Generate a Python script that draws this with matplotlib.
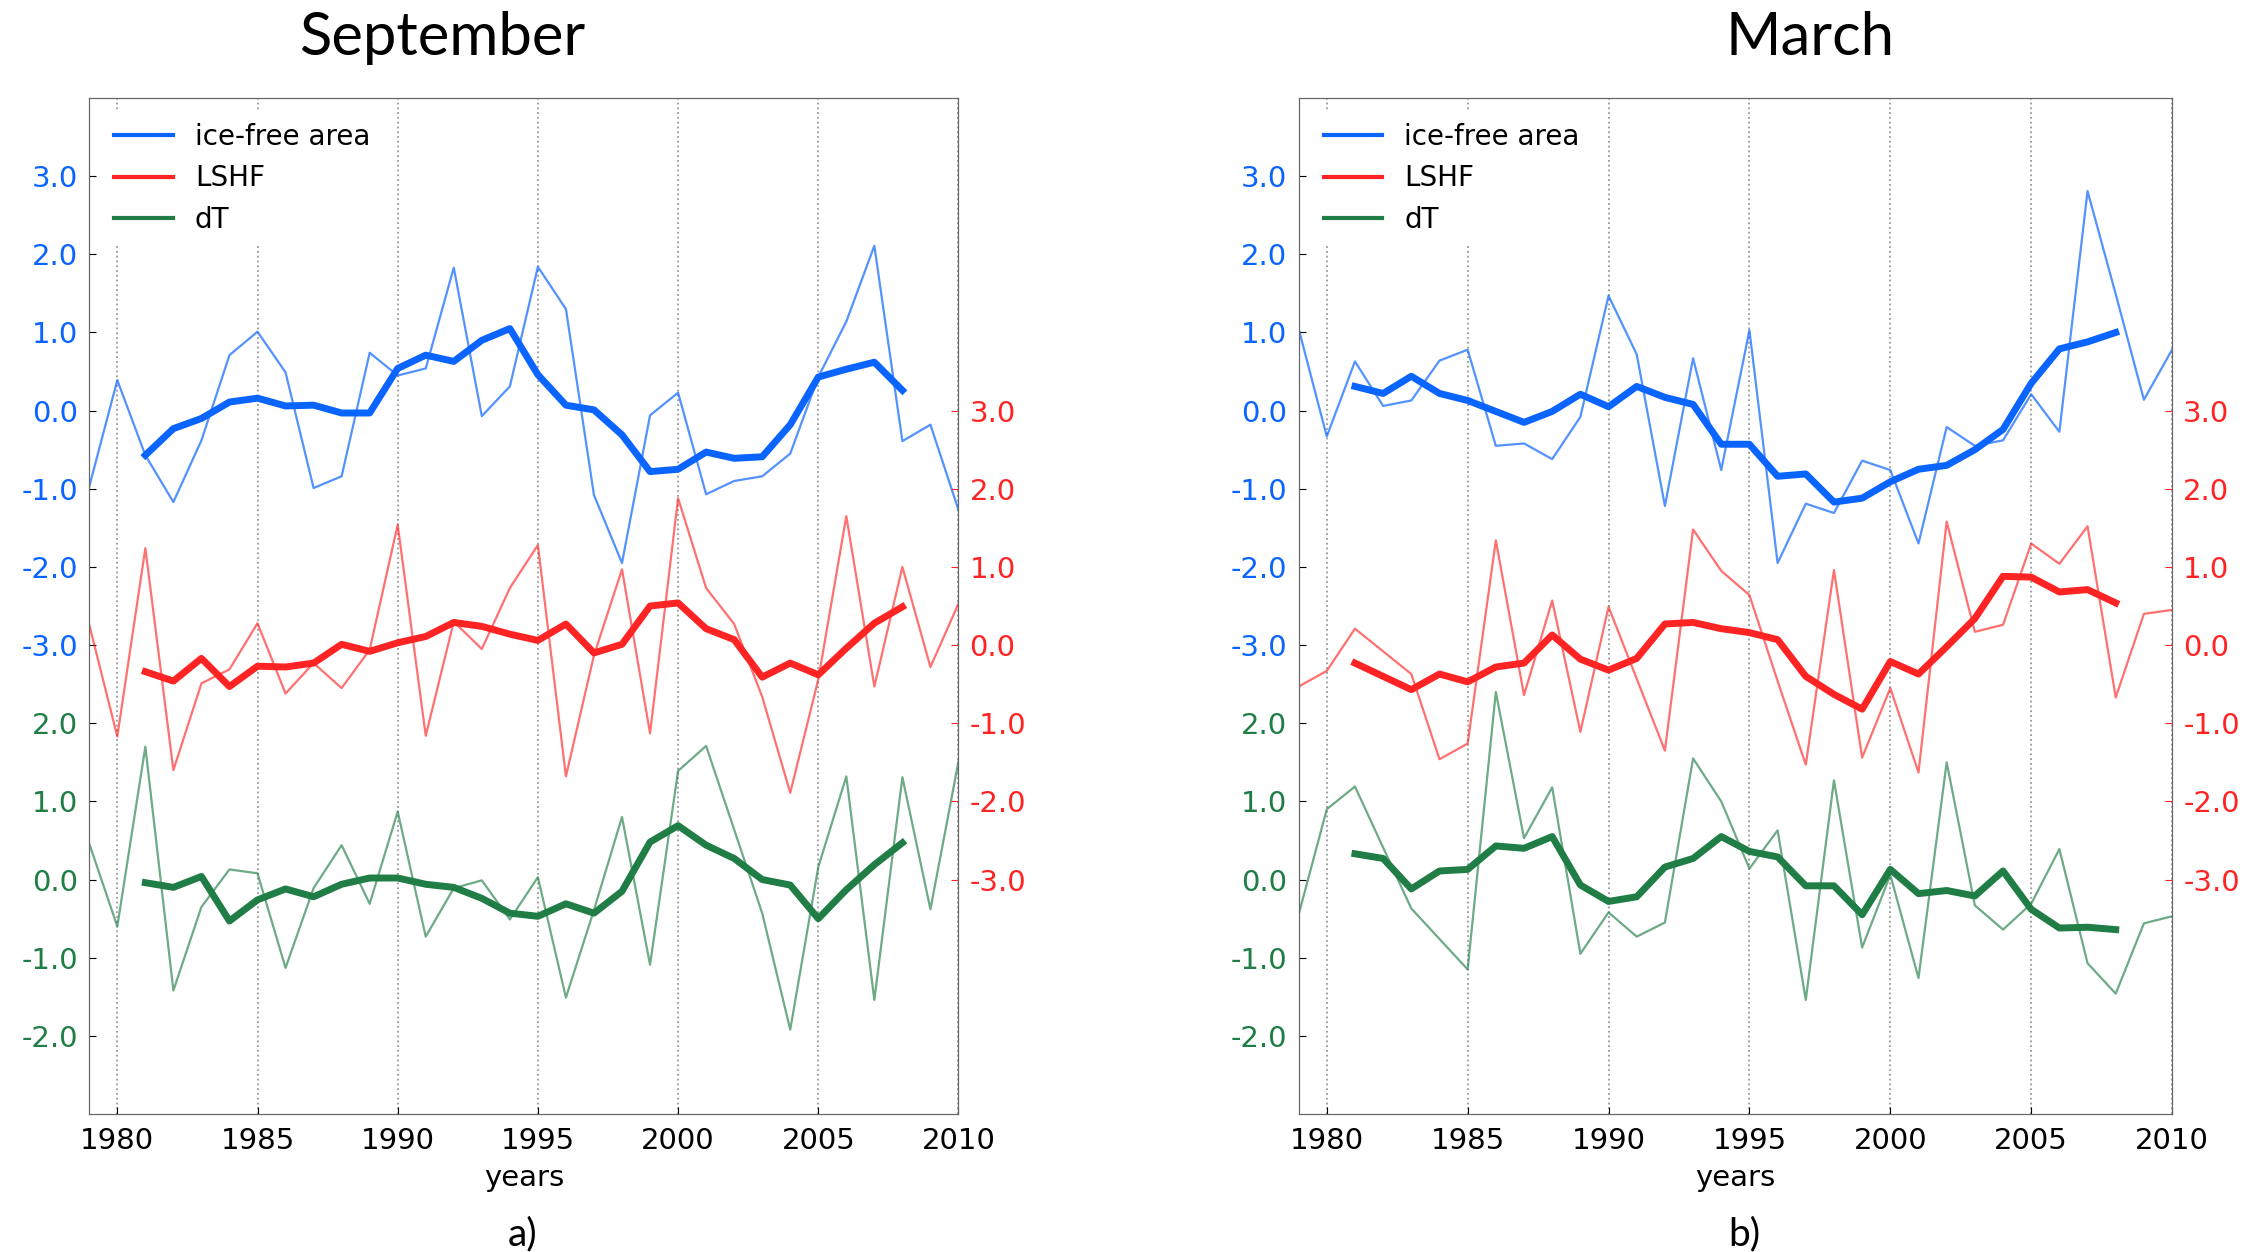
import numpy as np
import matplotlib
matplotlib.use("Agg")
import matplotlib.pyplot as plt
from matplotlib.lines import Line2D

# annual anomalies 1979-2010 and smoothed curves 1981-2008
years = np.arange(1979, 2011)
years_smooth = np.arange(1981, 2009)

sep_ice = [-0.97, 0.39, -0.57, -1.17, -0.38, 0.71, 1.01, 0.49, -0.99, -0.84, 0.74, 0.45, 0.54, 1.83, -0.07, 0.31,
           1.84, 1.30, -1.08, -1.95, -0.06, 0.23, -1.07, -0.90, -0.84, -0.55, 0.43, 1.14, 2.11, -0.39, -0.18, -1.27]
sep_ice_smooth = [-0.57, -0.23, -0.10, 0.11, 0.16, 0.06, 0.07, -0.03, -0.03, 0.54, 0.71, 0.63, 0.90, 1.05,
                  0.46, 0.07, 0.01, -0.31, -0.78, -0.75, -0.53, -0.61, -0.59, -0.18, 0.43, 0.53, 0.62, 0.26]
sep_lshf = [0.26, -1.17, 1.24, -1.60, -0.49, -0.31, 0.28, -0.62, -0.23, -0.55, -0.06, 1.54, -1.16, 0.30, -0.05, 0.73,
            1.28, -1.68, -0.13, 0.97, -1.13, 1.88, 0.73, 0.27, -0.66, -1.89, -0.44, 1.65, -0.53, 1.00, -0.28, 0.53]
sep_lshf_smooth = [-0.34, -0.46, -0.17, -0.53, -0.27, -0.28, -0.23, 0.01, -0.08, 0.03, 0.11, 0.29, 0.24, 0.14,
                   0.06, 0.27, -0.10, 0.01, 0.50, 0.54, 0.21, 0.07, -0.41, -0.23, -0.38, -0.04, 0.28, 0.49]
sep_dt = [0.46, -0.60, 1.70, -1.42, -0.35, 0.13, 0.08, -1.13, -0.11, 0.44, -0.31, 0.87, -0.73, -0.11, -0.01, -0.51,
          0.03, -1.51, -0.39, 0.80, -1.09, 1.39, 1.71, 0.64, -0.43, -1.92, 0.16, 1.32, -1.54, 1.31, -0.38, 1.51]
sep_dt_smooth = [-0.04, -0.10, 0.04, -0.53, -0.26, -0.12, -0.22, -0.06, 0.02, 0.02, -0.06, -0.10, -0.24, -0.43,
                 -0.47, -0.31, -0.43, -0.15, 0.48, 0.69, 0.44, 0.27, 0.00, -0.07, -0.50, -0.13, 0.19, 0.47]

mar_ice = [1.05, -0.33, 0.63, 0.06, 0.13, 0.64, 0.78, -0.45, -0.42, -0.62, -0.08, 1.47, 0.72, -1.22, 0.67, -0.76,
           1.03, -1.95, -1.19, -1.31, -0.64, -0.76, -1.70, -0.21, -0.45, -0.38, 0.21, -0.27, 2.81, 1.49, 0.14, 0.78]
mar_ice_smooth = [0.31, 0.22, 0.44, 0.22, 0.13, -0.01, -0.15, -0.01, 0.21, 0.05, 0.31, 0.17, 0.08, -0.43,
                  -0.43, -0.84, -0.81, -1.17, -1.12, -0.91, -0.75, -0.70, -0.50, -0.24, 0.35, 0.79, 0.88, 1.00]
mar_lshf = [-0.53, -0.33, 0.21, -0.08, -0.37, -1.46, -1.26, 1.34, -0.64, 0.57, -1.11, 0.49, -0.43, -1.35, 1.48, 0.95,
            0.64, -0.46, -1.53, 0.96, -1.44, -0.55, -1.63, 1.58, 0.17, 0.26, 1.30, 1.04, 1.52, -0.67, 0.40, 0.45]
mar_lshf_smooth = [-0.23, -0.40, -0.57, -0.37, -0.47, -0.28, -0.23, 0.13, -0.18, -0.32, -0.17, 0.27, 0.29, 0.21,
                   0.16, 0.07, -0.40, -0.63, -0.82, -0.21, -0.37, -0.02, 0.34, 0.88, 0.87, 0.68, 0.71, 0.54]
mar_dt = [-0.45, 0.90, 1.19, 0.41, -0.37, -0.76, -1.15, 2.40, 0.53, 1.18, -0.95, -0.42, -0.73, -0.55, 1.55, 1.00,
          0.14, 0.63, -1.54, 1.27, -0.87, 0.06, -1.26, 1.50, -0.33, -0.64, -0.31, 0.39, -1.07, -1.46, -0.56, -0.47]
mar_dt_smooth = [0.33, 0.27, -0.12, 0.11, 0.13, 0.43, 0.40, 0.55, -0.07, -0.28, -0.22, 0.16, 0.27, 0.55,
                 0.36, 0.29, -0.08, -0.08, -0.45, 0.13, -0.18, -0.14, -0.21, 0.11, -0.38, -0.62, -0.61, -0.64]

blue_ticks = [3.0, 2.0, 1.0, 0.0, -1.0, -2.0, -3.0]
green_ticks = [2.0, 1.0, 0.0, -1.0, -2.0]
red_ticks = [3.0, 2.0, 1.0, 0.0, -1.0, -2.0, -3.0]
x_ticks = [1980, 1985, 1990, 1995, 2000, 2005, 2010]

BLUE = "#0a64ff"
RED = "#ff2424"
GREEN = "#1f7d45"
ICE_SHIFT = 6.0   # ice-free area drawn above dT on the left axis
RED_SHIFT = 3.0   # right axis zero sits 3 units above left axis zero
FS = 21


def panel(ax, ice, ice_s, lshf, lshf_s, dt, dt_s):
    ax.plot(years, np.asarray(ice) + ICE_SHIFT, color=BLUE, lw=1.6, alpha=0.7)
    ax.plot(years_smooth, np.asarray(ice_s) + ICE_SHIFT, color=BLUE, lw=5)
    ax.plot(years, dt, color=GREEN, lw=1.6, alpha=0.65)
    ax.plot(years_smooth, dt_s, color=GREEN, lw=5)
    ax.set_xlim(1979, 2010)
    ax.set_ylim(-3, 10)
    ax.set_xticks(x_ticks)
    ax.tick_params(axis="x", labelsize=FS, direction="in", length=5, pad=9)
    ax.xaxis.grid(True, linestyle=":", color="#999999", linewidth=1.3)
    ax.set_xlabel("years", fontsize=FS, labelpad=7)

    pos = [v + ICE_SHIFT for v in blue_ticks] + green_ticks
    labels = ["%.1f" % v for v in blue_ticks] + ["%.1f" % v for v in green_ticks]
    ax.set_yticks(pos)
    ax.set_yticklabels(labels)
    ax.tick_params(axis="y", labelsize=FS, direction="in", length=5, pad=8)
    for i, lab in enumerate(ax.get_yticklabels()):
        lab.set_color(BLUE if i < len(blue_ticks) else GREEN)

    tw = ax.twinx()
    tw.plot(years, lshf, color=RED, lw=1.6, alpha=0.65)
    tw.plot(years_smooth, lshf_s, color=RED, lw=5)
    tw.set_ylim(-3 - RED_SHIFT, 10 - RED_SHIFT)
    tw.set_yticks(red_ticks)
    tw.set_yticklabels(["%.1f" % v for v in red_ticks])
    tw.tick_params(axis="y", labelsize=FS, colors=RED, direction="in", length=5, pad=8)
    for sp in ax.spines.values():
        sp.set_color("#666666")
    for sp in tw.spines.values():
        sp.set_color("#666666")

    handles = [Line2D([], [], color=BLUE, lw=3),
               Line2D([], [], color=RED, lw=3),
               Line2D([], [], color=GREEN, lw=3)]
    leg = tw.legend(handles, ["ice-free area", "LSHF", "dT"], loc="upper left",
                    fontsize=20, handlelength=2.1, labelspacing=0.48,
                    frameon=True, borderaxespad=0.5)
    leg.get_frame().set_edgecolor("none")
    leg.get_frame().set_alpha(1.0)


fig = plt.figure(figsize=(22.6, 12.52), dpi=100)
ax1 = fig.add_axes([0.0395, 0.1102, 0.3846, 0.8115])
ax2 = fig.add_axes([0.5746, 0.1102, 0.3865, 0.8115])

panel(ax1, sep_ice, sep_ice_smooth, sep_lshf, sep_lshf_smooth, sep_dt, sep_dt_smooth)
panel(ax2, mar_ice, mar_ice_smooth, mar_lshf, mar_lshf_smooth, mar_dt, mar_dt_smooth)

fig.text(0.1956, 0.970, "September", fontsize=43, family="Lato", ha="center", va="center")
fig.text(0.801, 0.970, "March", fontsize=43, family="Lato", ha="center", va="center")
fig.text(0.2314, 0.014, "a)", fontsize=28, family="Lato", ha="center", va="center")
fig.text(0.7717, 0.014, "b)", fontsize=28, family="Lato", ha="center", va="center")

fig.savefig("out.png", dpi=100)
